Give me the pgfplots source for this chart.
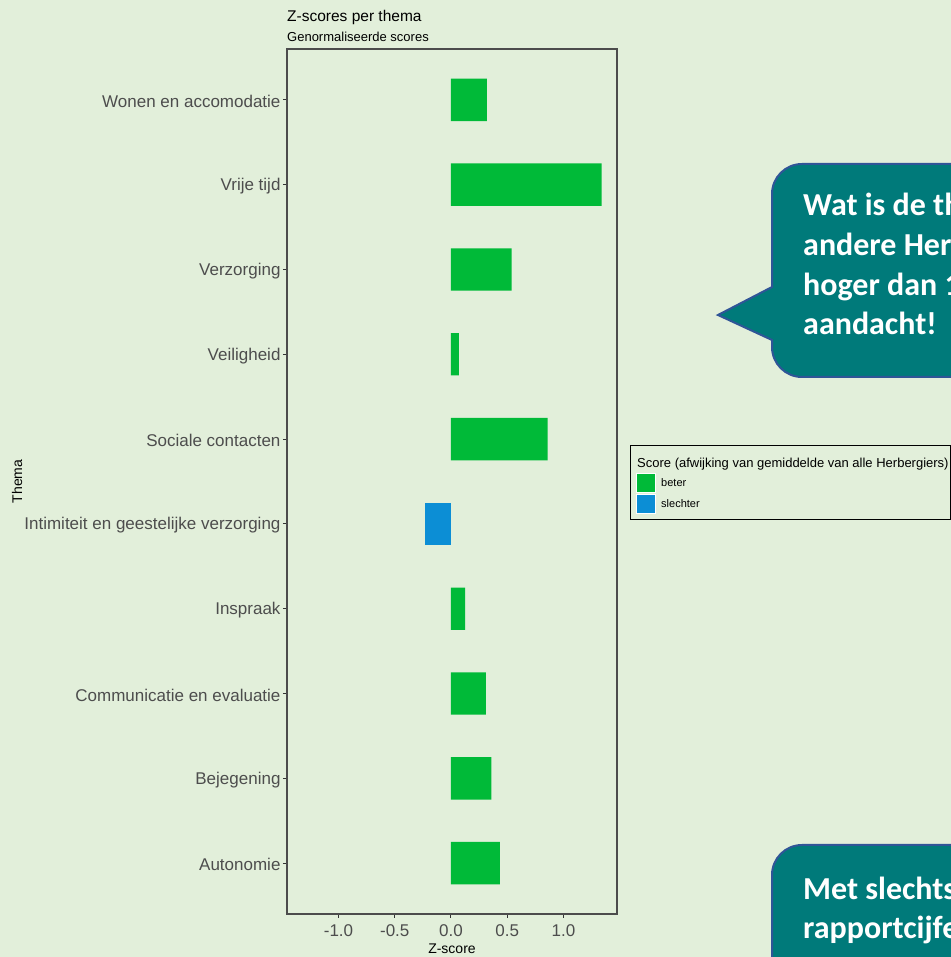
\documentclass[border=0pt]{standalone}
\usepackage{fontspec}
\setmainfont{Liberation Sans}
\newfontfamily\calib{Carlito}
\usepackage{pgfplots}
\pgfplotsset{compat=1.18}

\definecolor{bg}{HTML}{E2EFDA}
\definecolor{beter}{HTML}{00BA38}
\definecolor{slechter}{HTML}{0C8ED5}
\definecolor{tickgrey}{HTML}{4D4D4D}
\definecolor{teal2}{HTML}{007A7A}
\definecolor{rand}{HTML}{2F5597}

\begin{document}
\begin{tikzpicture}
\useasboundingbox (0,0) rectangle (951bp,957bp);
\begin{scope}
\clip (0,0) rectangle (951bp,957bp);
\fill[bg] (0,0) rectangle (951bp,957bp);

\begin{axis}[
    at={(287bp,43bp)}, anchor=south west,
    scale only axis, width=330bp, height=865bp,
    xbar, bar width=0.5, bar shift=0pt,
    xmin=-1.458, xmax=1.476,
    ymin=0.4, ymax=10.6,
    xtick={-1,-0.5,0,0.5,1},
    xticklabels={-1.0,-0.5,0.0,0.5,1.0},
    ytick={1,...,10},
    yticklabels={Autonomie,Bejegening,Communicatie en evaluatie,Inspraak,
      Intimiteit en geestelijke verzorging,Sociale contacten,Veiligheid,
      Verzorging,Vrije tijd,Wonen en accomodatie},
    xtick pos=bottom, ytick pos=left,
    tick align=outside, major tick length=4bp,
    tick style={draw=black!80, line width=1bp},
    axis line style={draw=black!70, line width=1.3bp},
    ticklabel style={font=\fontsize{17bp}{20bp}\selectfont, text=tickgrey},
    yticklabel style={xshift=1bp, yshift=-1.5bp},
    xticklabel style={yshift=-3bp},
    xlabel={Z-score}, ylabel={Thema},
    label style={font=\fontsize{14bp}{16bp}\selectfont},
    xlabel style={at={(axis description cs:0.5,-0.0405)}, anchor=center},
    ylabel style={at={(axis description cs:-0.818,0.5)}, anchor=center},
    legend image code/.code={\draw[#1, draw=white, line width=1bp] (0bp,-9.5bp) rectangle (19bp,9.5bp);},
    legend style={at={(1.0576,0.5098)}, anchor=north west,
      draw=none, fill=none,
      font=\fontsize{11bp}{13bp}\selectfont,
      nodes={inner sep=1bp}, row sep=1bp, column sep=4bp, inner sep=0bp},
    legend cell align=left,
]
\addplot[fill=beter, draw=none] coordinates {
    (0.435,1) (0.36,2) (0.31,3) (0.125,4) (0.86,6)
    (0.07,7) (0.54,8) (1.34,9) (0.32,10)
};
\addlegendentry{beter}

\addplot[fill=slechter, draw=none] coordinates {
    (-0.235,5)
};
\addlegendentry{slechter}
\end{axis}

\begin{scope}[x=1bp, y=1bp]
% titels
\node[anchor=base west, inner sep=0pt, font=\fontsize{15.5bp}{18bp}\selectfont] at (287,935) {Z-scores per thema};
\node[anchor=base west, inner sep=0pt, font=\fontsize{13bp}{15bp}\selectfont] at (287,915) {Genormaliseerde scores};

% legendakader en -titel
\draw[line width=1bp] (630,511) rectangle (950,437);
\node[anchor=base west, inner sep=0pt, font=\fontsize{13bp}{15bp}\selectfont] at (637,489.3)
    {Score (afwijking van gemiddelde van alle Herbergiers)};

% tekstballon boven
\draw[fill=teal2, draw=rand, line width=2bp]
    (772,670) -- (772,763) arc[start angle=180, end angle=90, radius=30bp]
    -- (1000,793) -- (1000,580) -- (802,580)
    arc[start angle=270, end angle=180, radius=30bp]
    -- (772,617) -- (718,642) -- cycle;
\begin{scope}[every node/.style={anchor=base west, inner sep=0pt, text=white, font=\calib\bfseries\fontsize{32bp}{40bp}\selectfont}]
\node at (803,741) {Wat is de thema's};
\node at (803,701) {andere Herbergiers};
\node at (803,661) {hoger dan 1};
\node at (803,622) {aandacht!};
\end{scope}

% tekstballon onder
\draw[fill=teal2, draw=rand, line width=2bp]
    (772,-10) -- (772,82) arc[start angle=180, end angle=90, radius=30bp]
    -- (1000,112) -- (1000,-10) -- cycle;
\begin{scope}[every node/.style={anchor=base west, inner sep=0pt, text=white, font=\calib\bfseries\fontsize{32bp}{40bp}\selectfont}]
\node at (803,58) {Met slechts};
\node at (803,19) {rapportcijfers};
\end{scope}
\end{scope}
\end{scope}
\end{tikzpicture}
\end{document}
